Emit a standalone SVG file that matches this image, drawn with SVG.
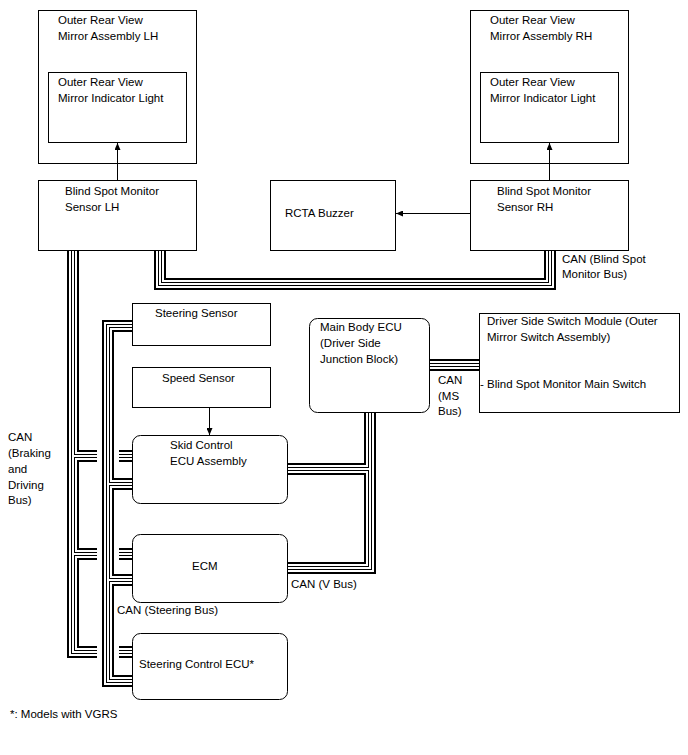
<svg xmlns="http://www.w3.org/2000/svg" xmlns:xlink="http://www.w3.org/1999/xlink" width="688" height="755" viewBox="0 0 688 755">
<style>
  .box { fill: #fff; stroke: #000; stroke-width: 1; }
  .inner { fill: none; stroke: #000; stroke-width: 1; }
  text { font-family: "Liberation Sans", Arial, sans-serif; font-size: 11.5px; fill: #000; }
  .b12 { fill: none; stroke: #000; stroke-width: 12; stroke-linejoin: miter; stroke-linecap: butt; }
  .w8 { fill: none; stroke: #fff; stroke-width: 8; stroke-linejoin: miter; stroke-linecap: butt; }
  .b4 { fill: none; stroke: #000; stroke-width: 4; stroke-linejoin: miter; stroke-linecap: butt; }
  .w2 { fill: none; stroke: #fff; stroke-width: 2; stroke-linejoin: miter; stroke-linecap: butt; }
  .arrow { stroke: #000; stroke-width: 1; fill: none; marker-end: url(#ah); }
</style>
<defs>
  <marker id="ah" markerUnits="userSpaceOnUse" markerWidth="7" markerHeight="6" refX="7" refY="3" orient="auto">
    <path d="M0,0 L7,3 L0,6 Z" fill="#000"/>
  </marker>
  <path id="busBSM" d="M160,251 V284 H550 V251"/>
  <path id="busA" d="M73,251 V652 H132 M73,456 H132 M73,554 H132"/>
  <path id="busB" d="M132,326 H108 V681 H132 M108,484 H132 M108,580 H132"/>
  <path id="busV" d="M370,413 V568 H288 M370,469 H288"/>
  <path id="busMS" d="M430,365 H479"/>
</defs>

<rect width="688" height="755" fill="#fff"/>

<g id="mirror-lh">
  <rect class="box" x="38.5" y="10.5" width="158" height="153"/>
  <text x="58" y="24">Outer Rear View</text>
  <text x="58" y="40">Mirror Assembly LH</text>
</g>
<g id="indicator-lh">
  <rect class="inner" x="48.5" y="72.5" width="138" height="70"/>
  <text x="58" y="86">Outer Rear View</text>
  <text x="58" y="102">Mirror Indicator Light</text>
</g>
<g id="mirror-rh">
  <rect class="box" x="470.5" y="10.5" width="158" height="153"/>
  <text x="490" y="24">Outer Rear View</text>
  <text x="490" y="40">Mirror Assembly RH</text>
</g>
<g id="indicator-rh">
  <rect class="inner" x="480.5" y="72.5" width="138" height="70"/>
  <text x="490" y="86">Outer Rear View</text>
  <text x="490" y="102">Mirror Indicator Light</text>
</g>
<g id="bsm-lh">
  <rect class="box" x="38.5" y="180.5" width="158" height="70"/>
  <text x="65" y="195">Blind Spot Monitor</text>
  <text x="65" y="211">Sensor LH</text>
</g>
<g id="bsm-rh">
  <rect class="box" x="470.5" y="180.5" width="158" height="70"/>
  <text x="497" y="195">Blind Spot Monitor</text>
  <text x="497" y="211">Sensor RH</text>
</g>
<g id="rcta-buzzer">
  <rect class="box" x="270.5" y="180.5" width="125" height="70"/>
  <text x="285" y="217">RCTA Buzzer</text>
</g>
<g id="steering-sensor">
  <rect class="box" x="132.5" y="303.5" width="138" height="42"/>
  <text x="155" y="317">Steering Sensor</text>
</g>
<g id="speed-sensor">
  <rect class="box" x="132.5" y="367.5" width="138" height="40"/>
  <text x="162" y="382">Speed Sensor</text>
</g>
<g id="skid-control-ecu">
  <rect class="box" x="132.5" y="435.5" width="155" height="68" rx="8"/>
  <text x="170" y="449">Skid Control</text>
  <text x="170" y="465">ECU Assembly</text>
</g>
<g id="ecm">
  <rect class="box" x="132.5" y="534.5" width="155" height="68" rx="8"/>
  <text x="192" y="570">ECM</text>
</g>
<g id="steering-control-ecu">
  <rect class="box" x="132.5" y="633.5" width="155" height="66" rx="8"/>
  <text x="139" y="668">Steering Control ECU*</text>
</g>
<g id="main-body-ecu">
  <rect class="box" x="309.5" y="318.5" width="120" height="94" rx="8"/>
  <text x="320" y="331">Main Body ECU</text>
  <text x="320" y="347">(Driver Side</text>
  <text x="320" y="363">Junction Block)</text>
</g>
<g id="driver-side-switch-module">
  <rect class="box" x="479.5" y="313.5" width="200" height="99"/>
  <text x="487" y="325">Driver Side Switch Module (Outer</text>
  <text x="487" y="341">Mirror Switch Assembly)</text>
  <text x="480" y="388">- Blind Spot Monitor Main Switch</text>
</g>

<g id="connectors">
  <line class="arrow" x1="117.5" y1="180" x2="117.5" y2="143"/>
  <line class="arrow" x1="549.5" y1="180" x2="549.5" y2="143"/>
  <line class="arrow" x1="470" y1="213.5" x2="396" y2="213.5"/>
  <line class="arrow" x1="209.5" y1="408" x2="209.5" y2="435"/>

  <use xlink:href="#busBSM" class="b12"/>
  <use xlink:href="#busBSM" class="w8"/>
  <use xlink:href="#busBSM" class="b4"/>
  <use xlink:href="#busBSM" class="w2"/>

  <use xlink:href="#busA" class="b12"/>
  <use xlink:href="#busA" class="w8"/>
  <use xlink:href="#busA" class="b4"/>
  <use xlink:href="#busA" class="w2"/>

  <rect x="97" y="449" width="22" height="14" fill="#fff"/>
  <rect x="97" y="547" width="22" height="14" fill="#fff"/>
  <rect x="97" y="645" width="22" height="14" fill="#fff"/>

  <use xlink:href="#busB" class="b12"/>
  <use xlink:href="#busB" class="w8"/>
  <use xlink:href="#busB" class="b4"/>
  <use xlink:href="#busB" class="w2"/>

  <use xlink:href="#busV" class="b12"/>
  <use xlink:href="#busV" class="w8"/>
  <use xlink:href="#busV" class="b4"/>
  <use xlink:href="#busV" class="w2"/>

  <use xlink:href="#busMS" class="b12"/>
  <use xlink:href="#busMS" class="w8"/>
  <use xlink:href="#busMS" class="b4"/>
  <use xlink:href="#busMS" class="w2"/>
</g>

<g id="labels">
  <text x="562" y="263">CAN (Blind Spot</text>
  <text x="562" y="278">Monitor Bus)</text>
  <text x="438" y="384">CAN</text>
  <text x="438" y="400">(MS</text>
  <text x="438" y="415">Bus)</text>
  <text x="291" y="588">CAN (V Bus)</text>
  <text x="117" y="614">CAN (Steering Bus)</text>
  <text x="8" y="441">CAN</text>
  <text x="8" y="457">(Braking</text>
  <text x="8" y="473">and</text>
  <text x="8" y="489">Driving</text>
  <text x="8" y="504">Bus)</text>
  <text x="10" y="718">*: Models with VGRS</text>
</g>
</svg>
